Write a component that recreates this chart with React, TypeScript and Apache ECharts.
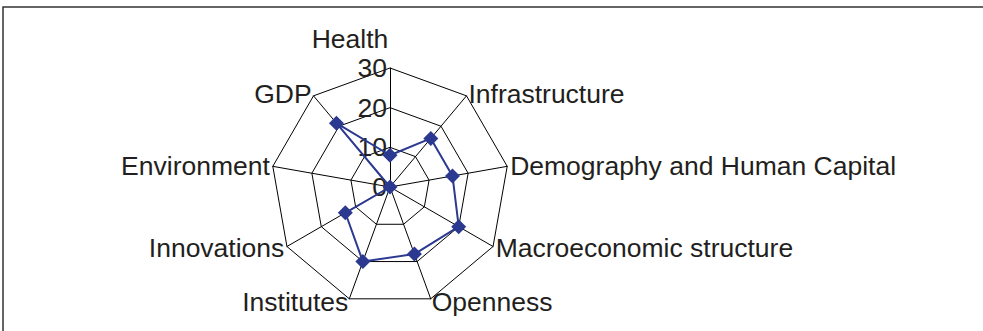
import React, { useEffect, useRef } from "react";
import * as echarts from "echarts";

// Indicators listed clockwise starting at the top
const indicatorNames = [
  "Health",
  "Infrastructure",
  "Demography and Human Capital",
  "Macroeconomic structure",
  "Openness",
  "Institutes",
  "Innovations",
  "Environment",
  "GDP",
];
const seriesValues = [8, 16, 16, 20, 18, 20, 13, 0, 21];
const axisMax = 30;
const tickCount = 3; // 0, 10, 20, 30

export default function App() {
  const ref = useRef<HTMLDivElement>(null);
  useEffect(() => {
    if (!ref.current) return;
    const chart = echarts.init(ref.current, null, { renderer: "svg" });
    // ECharts places radar indicators counter-clockwise; reverse all but the first
    const order = [0, ...indicatorNames.slice(1).map((_, i) => indicatorNames.length - 1 - i)];
    const font = "'Liberation Sans', Arial, sans-serif";
    const textColor = "#231f20";
    const fs = 26.5;
    chart.setOption({
      animation: false,
      backgroundColor: "#ffffff",
      graphic: [
        {
          type: "rect",
          shape: { x: 3, y: 7, width: 1000, height: 400 },
          style: { fill: "none", stroke: "#333333", lineWidth: 1.5 },
          silent: true,
        },
      ],
      radar: {
        center: [390, 187],
        radius: 119,
        startAngle: 90,
        shape: "polygon",
        splitNumber: tickCount,
        nameGap: 3,
        indicator: order.map((idx, k) => ({
          name: indicatorNames[idx],
          min: 0,
          max: axisMax,
          ...(k === 0
            ? {
                axisLabel: {
                  show: true,
                  fontSize: fs,
                  fontFamily: font,
                  color: textColor,
                  margin: 3,
                },
              }
            : {}),
        })),
        axisName: {
          color: textColor,
          fontSize: fs,
          fontFamily: font,
          formatter: (name: string) => (name === "Health" ? `{h|${name}}` : name),
          rich: {
            h: {
              fontSize: fs,
              fontFamily: font,
              color: textColor,
              padding: [0, 80, 13, 0],
            },
          },
        },
        axisLine: { lineStyle: { color: "#000000", width: 1 } },
        splitLine: { lineStyle: { color: "#000000", width: 1 } },
        splitArea: { show: false },
        axisTick: { show: false },
        axisLabel: { show: false },
      },
      series: [
        {
          type: "radar",
          symbol: "diamond",
          symbolSize: 15,
          lineStyle: { color: "#2b3990", width: 2 },
          itemStyle: { color: "#2b3990" },
          data: [{ value: order.map((idx) => seriesValues[idx]) }],
        },
      ],
    });
    return () => chart.dispose();
  }, []);
  return (
    <div
      ref={ref}
      style={{ position: "fixed", left: 0, top: 0, width: 983, height: 331 }}
    />
  );
}
